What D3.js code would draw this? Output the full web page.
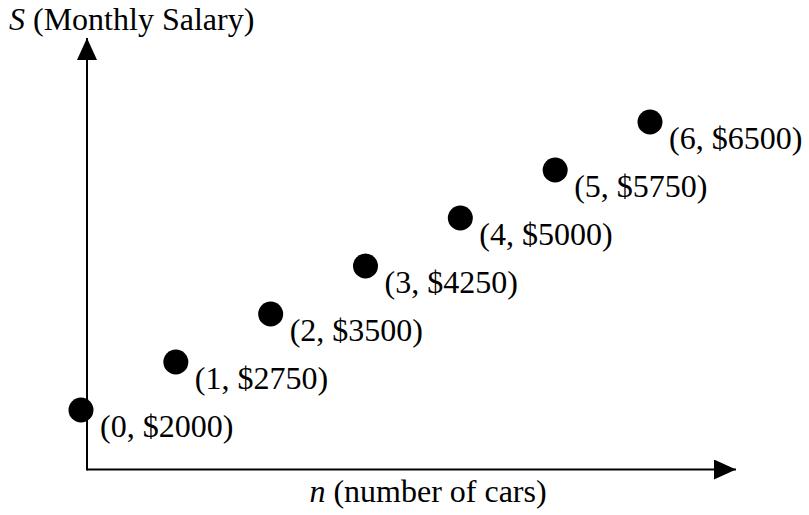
<!DOCTYPE html>
<html>
<head>
<meta charset="utf-8">
<script src="https://cdn.jsdelivr.net/npm/d3@7"></script>
<style>
  html, body { margin: 0; padding: 0; background: #fff; }
  svg text { font-family: "Liberation Serif", "Times New Roman", serif; fill: #000; }
</style>
</head>
<body>
<script>
// data
const cars = [0, 1, 2, 3, 4, 5, 6];
const salary = [2000, 2750, 3500, 4250, 5000, 5750, 6500];
const pointLabels = ['(0, $2000)', '(1, $2750)', '(2, $3500)', '(3, $4250)', '(4, $5000)', '(5, $5750)', '(6, $6500)'];

const width = 809, height = 515;
const FONT = 32;

const svg = d3.select('body').append('svg')
  .attr('width', width)
  .attr('height', height);

// axis origin and extents (schematic axes, no ticks)
const originX = 87, originY = 469.5;
const axisEndX = 736, axisEndY = 38;

const x = d3.scaleLinear().domain([0, 6]).range([81, 650]);
const y = d3.scaleLinear().domain([2000, 6500]).range([410, 122]);

const defs = svg.append('defs');
defs.append('marker')
  .attr('id', 'arrow')
  .attr('viewBox', '0 0 22 20')
  .attr('refX', 22).attr('refY', 10)
  .attr('markerWidth', 22).attr('markerHeight', 20)
  .attr('markerUnits', 'userSpaceOnUse')
  .attr('orient', 'auto')
  .append('path')
  .attr('d', 'M0,0 L22,10 L0,20 Z')
  .attr('fill', '#000');

// axes
svg.append('line')
  .attr('x1', originX).attr('y1', originY)
  .attr('x2', axisEndX).attr('y2', originY)
  .attr('stroke', '#000').attr('stroke-width', 2)
  .attr('marker-end', 'url(#arrow)');
svg.append('line')
  .attr('x1', originX).attr('y1', originY + 1)
  .attr('x2', originX).attr('y2', axisEndY)
  .attr('stroke', '#000').attr('stroke-width', 2)
  .attr('marker-end', 'url(#arrow)');

// axis titles
const yTitle = svg.append('text')
  .attr('x', 9).attr('y', 30)
  .attr('font-size', FONT);
yTitle.append('tspan').attr('font-style', 'italic').text('S');
yTitle.append('tspan').text(' (Monthly Salary)');

const xTitle = svg.append('text')
  .attr('x', 428).attr('y', 502)
  .attr('text-anchor', 'middle')
  .attr('font-size', FONT);
xTitle.append('tspan').attr('font-style', 'italic').text('n');
xTitle.append('tspan').text(' (number of cars)');

// points
const pts = cars.map((n, i) => ({ n, s: salary[i], label: pointLabels[i] }));

svg.append('g')
  .selectAll('circle')
  .data(pts)
  .join('circle')
  .attr('cx', d => x(d.n))
  .attr('cy', d => y(d.s))
  .attr('r', 12.5)
  .attr('fill', '#000');

svg.append('g')
  .selectAll('text')
  .data(pts)
  .join('text')
  .attr('x', d => x(d.n) + 19)
  .attr('y', d => y(d.s) + 27)
  .attr('font-size', FONT)
  .text(d => d.label);
</script>
</body>
</html>
